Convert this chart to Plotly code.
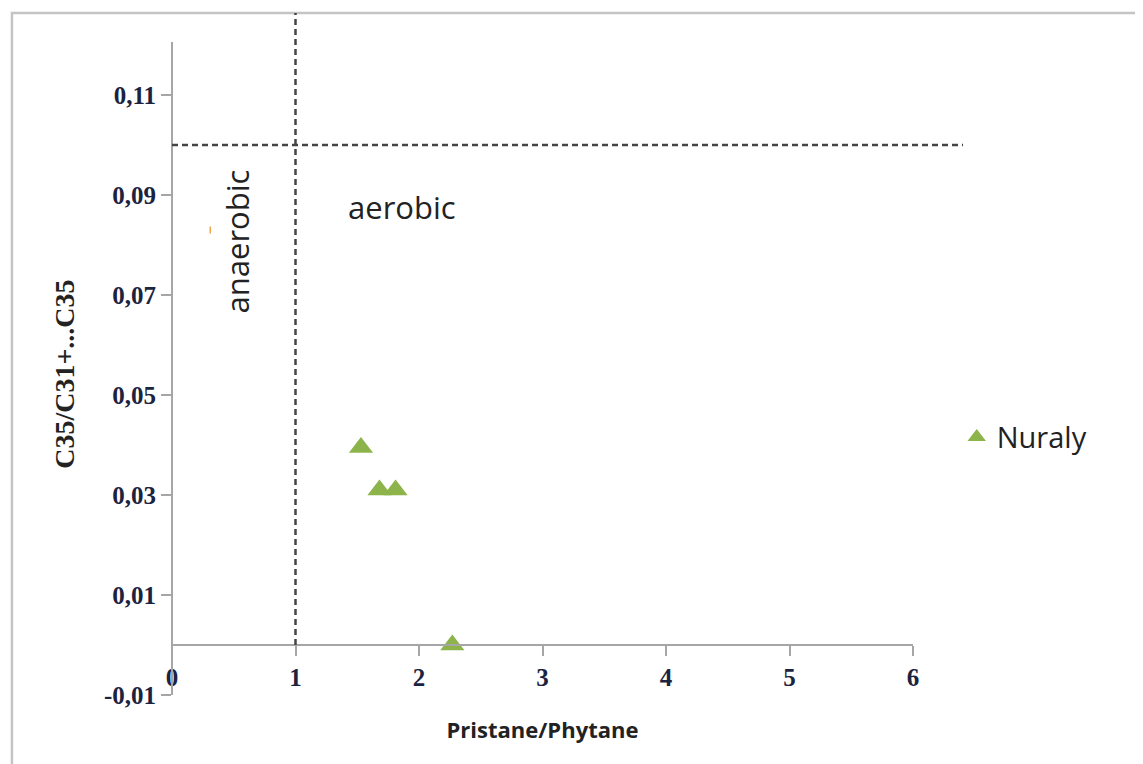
import plotly.graph_objects as go

# ---- data ----
pristane_phytane = [1.53, 1.68, 1.81, 2.27]
c35_ratio = [0.0395, 0.031, 0.031, 0.0]
series_name = "Nuraly"

other_x = [0.31]
other_y = [0.083]

x_ticks = [0, 1, 2, 3, 4, 5, 6]
x_ticklabels = ["0", "1", "2", "3", "4", "5", "6"]
y_ticks = [-0.01, 0.01, 0.03, 0.05, 0.07, 0.09, 0.11]
y_ticklabels = ["-0,01", "0,01", "0,03", "0,05", "0,07", "0,09", "0,11"]

pr_threshold = 1.0
c35_threshold = 0.10

X_MIN, X_MAX = 0, 6
Y_MIN, Y_MAX = -0.01, 0.1264
Y_AXIS_TOP = 0.1206

GREEN = "#8DB44A"
AXIS = "#a6a6a6"
TICKCOL = "#1c2340"
DASH = "#444444"

fig = go.Figure()
fig.add_trace(go.Scatter(
    x=pristane_phytane, y=c35_ratio, mode="markers", name=series_name,
    marker=dict(symbol="triangle-up", size=21, color=GREEN),
    cliponaxis=False,
))
fig.add_trace(go.Scatter(
    x=other_x, y=other_y, mode="markers", showlegend=False,
    marker=dict(symbol="line-ns", size=5, line=dict(color="#f2a24a", width=1.5)),
))

# outer frame (top & left visible)
fig.add_shape(type="rect", xref="paper", yref="paper",
              x0=-0.216, x1=1.6, y0=-0.3, y1=1.0,
              line=dict(color="#c4c4c4", width=2.5), fillcolor="rgba(0,0,0,0)")

# y axis line
fig.add_shape(type="line", xref="paper", yref="y", x0=0, x1=0,
              y0=Y_MIN, y1=Y_AXIS_TOP, line=dict(color=AXIS, width=2))

# threshold dashed lines
fig.add_shape(type="line", xref="x", yref="y", x0=pr_threshold, x1=pr_threshold,
              y0=0, y1=Y_MAX, line=dict(color=DASH, width=2.5, dash="6px,4px"))
fig.add_shape(type="line", xref="paper", yref="y", x0=0, x1=1.0675,
              y0=c35_threshold, y1=c35_threshold,
              line=dict(color=DASH, width=2.5, dash="6px,4px"))

fig.add_annotation(x=1.41, y=0.0876, xref="x", yref="y", text="aerobic",
                   showarrow=False, xanchor="left", yanchor="middle",
                   font=dict(family="Open Sans", size=31, color="#222222"))
fig.add_annotation(x=0.53, y=0.0808, xref="x", yref="y", text="anaerobic",
                   showarrow=False, textangle=-90,
                   font=dict(family="Open Sans", size=31, color="#222222"))

# y-axis title (placed slightly below the plot centre, as in the original)
fig.add_annotation(x=-0.146, y=0.0542, xref="paper", yref="y",
                   text="C35/C31+...C35", showarrow=False, textangle=-90,
                   xanchor="center", yanchor="middle",
                   font=dict(family="Liberation Serif", size=28, color="#222222", weight="bold"))

fig.update_layout(
    width=1135, height=756,
    margin=dict(l=164, r=230, t=5, b=69),
    paper_bgcolor="white", plot_bgcolor="white",
    showlegend=True,
    legend=dict(x=1.059, y=0.378, xanchor="left", yanchor="middle",
                bgcolor="rgba(0,0,0,0)",
                font=dict(family="Open Sans", size=29, color="#222222")),
    xaxis=dict(range=[X_MIN, X_MAX], anchor="free",
               position=(0 - Y_MIN) / (Y_MAX - Y_MIN),
               showline=True, linecolor=AXIS, linewidth=2,
               showgrid=False, zeroline=False,
               ticks="outside", ticklen=10, tickcolor=AXIS, tickwidth=1.5,
               tickvals=x_ticks, ticktext=x_ticklabels,
               tickfont=dict(family="Liberation Serif", size=25, color=TICKCOL, weight="bold"),
               title=dict(text="Pristane/Phytane", standoff=32,
                          font=dict(family="Open Sans", size=22, color="#222222", weight="bold"))),
    yaxis=dict(range=[Y_MIN, Y_MAX], showline=False, showgrid=False, zeroline=False,
               ticks="outside", ticklen=10, tickcolor=AXIS, tickwidth=1.5,
               tickvals=y_ticks, ticktext=y_ticklabels,
               tickfont=dict(family="Liberation Serif", size=25, color=TICKCOL, weight="bold")),
)

fig.write_html("out.html")
